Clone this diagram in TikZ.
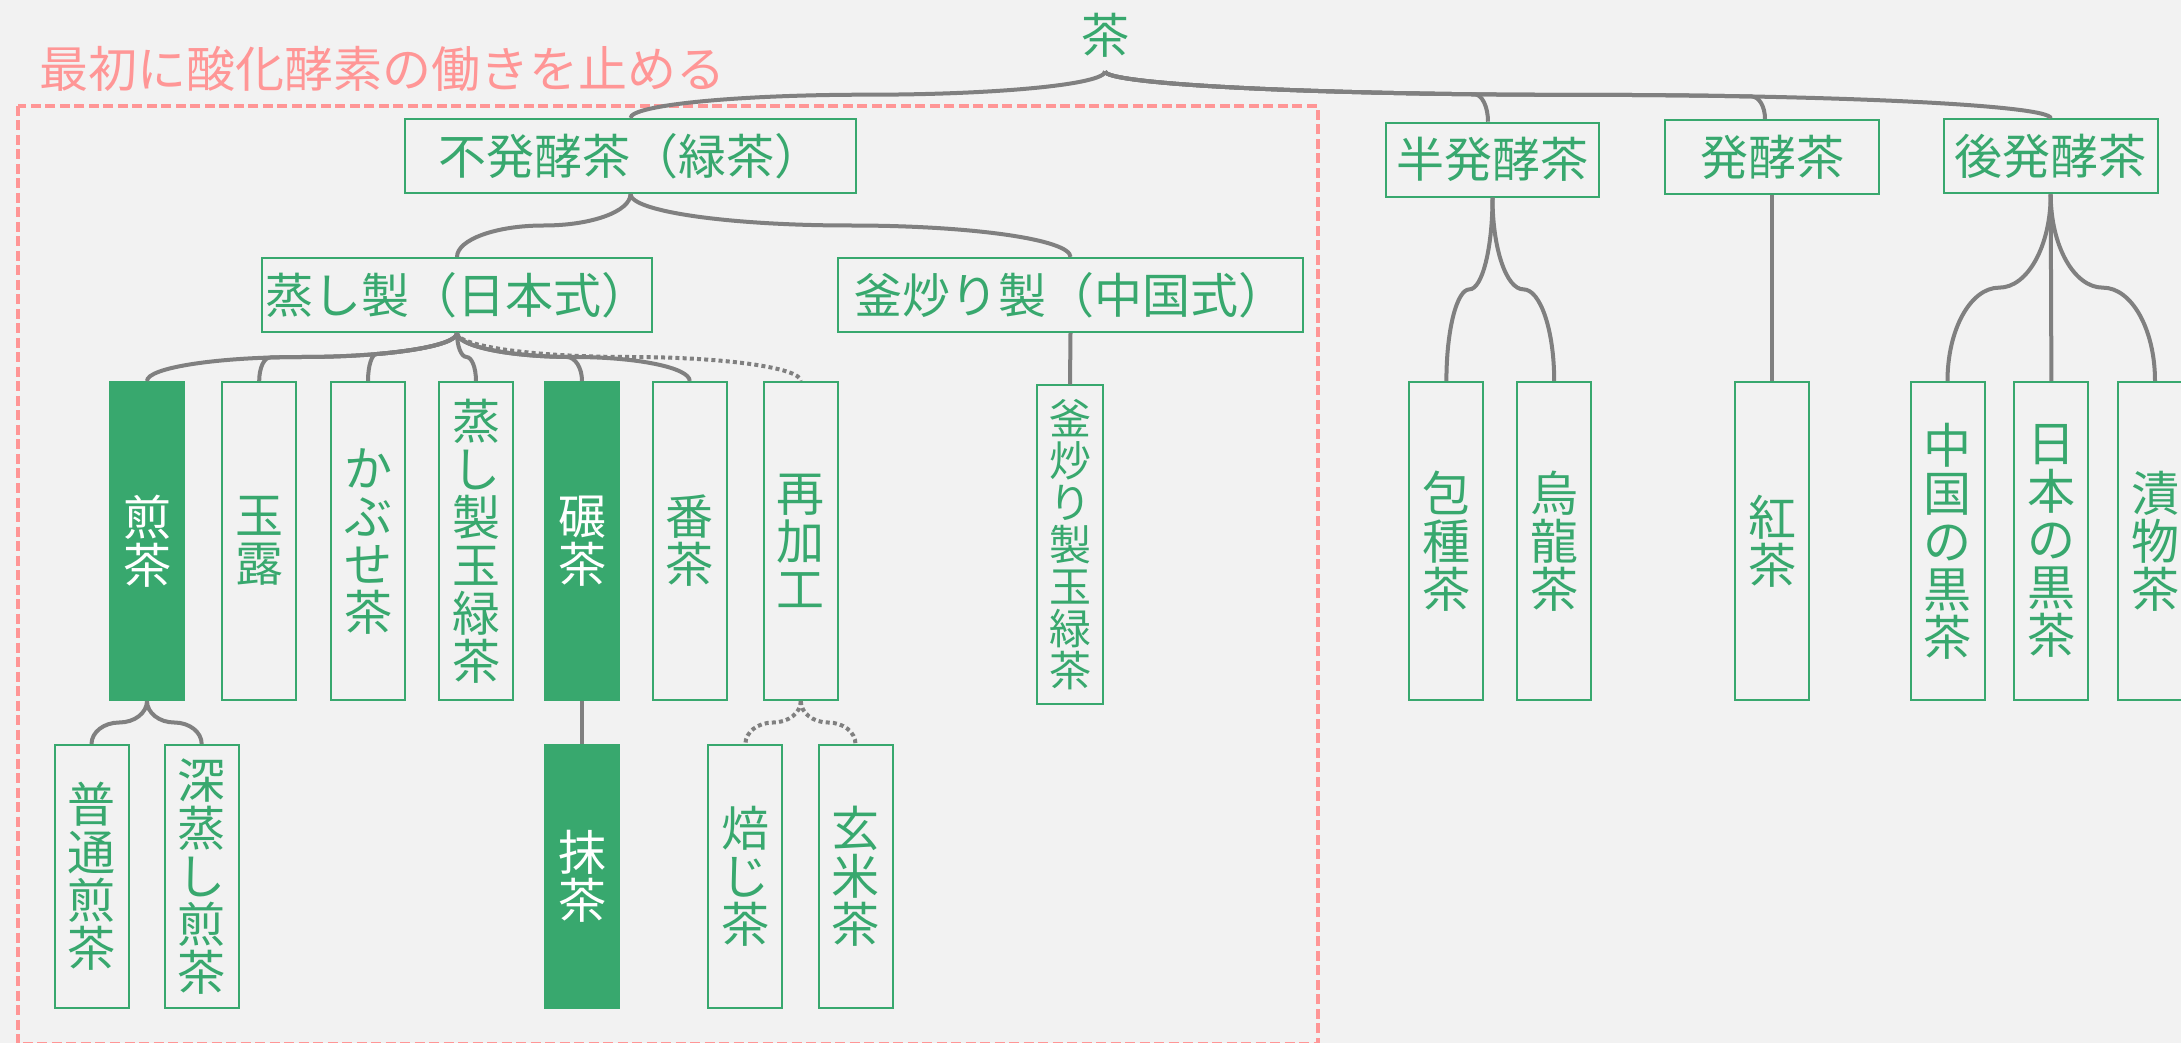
\documentclass[tikz,border=0pt]{standalone}
\usepackage{fontspec}
\setmainfont{Noto Sans CJK JP}
\usetikzlibrary{calc}
\definecolor{tgreen}{RGB}{56,168,110}
\definecolor{tgray}{RGB}{128,128,128}
\definecolor{tpink}{RGB}{255,150,150}
\definecolor{tbg}{RGB}{242,242,242}
\tikzset{
  box/.style={draw=tgreen, line width=1pt, text=tgreen, inner sep=0pt, align=center,
    font=\fontsize{24}{24}\selectfont},
  hbox/.style={box, minimum height=37pt},
  vbox/.style={box, minimum width=37pt, minimum height=159pt},
  bbox/.style={box, minimum width=37pt, minimum height=131.5pt},
  filled/.style={fill=tgreen, text=white},
  conn/.style={draw=tgray, line width=2pt},
  dotconn/.style={dash pattern=on 2pt off 1.6pt},
}
% brace connector from parent anchor #2 to child anchor #3 (horizontal turn at midpoint)
\newcommand{\brc}[3][]{%
  \draw[conn,#1] let \p1=(#2), \p2=(#3), \p3=($(\p1)!0.5!(\p2)$) in
    (\p1) .. controls (\x1,{\y1+0.5523*(\y3-\y1)}) and ({\x3+0.5523*(\x1-\x3)},\y3) .. (\p3)
    .. controls ({\x3+0.5523*(\x2-\x3)},\y3) and (\x2,{\y2+0.5523*(\y3-\y2)}) .. (\p2);
}
% branch that follows the first half of the brace #2 -> #3 up to parameter #5, then drops to child #4
\newcommand{\brA}[5][]{%
  \draw[conn,#1] let \p1=(#2), \p2=(#3), \p3=($(\p1)!0.5!(\p2)$),
    \p4=(\x1,{\y1+0.5523*(\y3-\y1)}), \p5=({\x3+0.5523*(\x1-\x3)},\y3),
    \p6=($(\p1)!#5!(\p4)$), \p7=($(\p4)!#5!(\p5)$), \p8=($(\p5)!#5!(\p3)$),
    \p9=($(\p6)!#5!(\p7)$), \p{r}=($(\p7)!#5!(\p8)$), \p{s}=($(\p9)!#5!(\p{r})$), \p{c}=(#4) in
    (\p1) .. controls (\p6) and (\p9) .. (\p{s})
    .. controls ({\x{s}+0.5523*(\x{c}-\x{s})},\y{s}) and (\x{c},{\y{c}+0.5523*(\y{s}-\y{c})}) .. (\p{c});
}
% branch that follows the whole first half and the second half up to parameter #5
\newcommand{\brB}[5][]{%
  \draw[conn,#1] let \p1=(#2), \p2=(#3), \p3=($(\p1)!0.5!(\p2)$),
    \p4=({\x3+0.5523*(\x2-\x3)},\y3), \p5=(\x2,{\y2+0.5523*(\y3-\y2)}),
    \p6=($(\p3)!#5!(\p4)$), \p7=($(\p4)!#5!(\p5)$), \p8=($(\p5)!#5!(\p2)$),
    \p9=($(\p6)!#5!(\p7)$), \p{r}=($(\p7)!#5!(\p8)$), \p{s}=($(\p9)!#5!(\p{r})$), \p{c}=(#4) in
    (\p1) .. controls (\x1,{\y1+0.5523*(\y3-\y1)}) and ({\x3+0.5523*(\x1-\x3)},\y3) .. (\p3)
    .. controls (\p6) and (\p9) .. (\p{s})
    .. controls ({\x{s}+0.5523*(\x{c}-\x{s})},\y{s}) and (\x{c},{\y{c}+0.5523*(\y{s}-\y{c})}) .. (\p{c});
}
\begin{document}
\begin{tikzpicture}[x=0.5pt,y=-0.5pt]
\useasboundingbox (0,0) rectangle (2181,1043);
\fill[tbg] (0,0) rectangle (2181,1043);
\draw[tpink, line width=2pt, dash pattern=on 5pt off 2.25pt] (18,106) rectangle (1317.5,1043.5);
\node[text=tpink, inner sep=0pt, font=\fontsize{24.5}{24.5}\selectfont] (title) at (382.5,69) {最初に酸化酵素の働きを止める};

\node[text=tgreen, inner sep=0pt, minimum height=36pt, font=\fontsize{24}{24}\selectfont] (cha) at (1105,35) {茶};

% level 1
\node[hbox, minimum width=225.5pt] (fuha) at (630.5,156) {不発酵茶（緑茶）};
\node[hbox, minimum width=106.5pt] (han) at (1492.5,159.7) {半発酵茶};
\node[hbox, minimum width=107pt] (hakko) at (1772,157) {発酵茶};
\node[hbox, minimum width=107pt] (kou) at (2050.7,156.3) {後発酵茶};
% level 2
\node[hbox, minimum width=195pt] (mushi) at (457,295) {蒸し製（日本式）};
\node[hbox, minimum width=232.5pt] (kama) at (1070.5,295) {釜炒り製（中国式）};
% level 3
\node[vbox, filled] (sencha) at (147,541) {煎\\茶};
\node[vbox] (gyokuro) at (259.2,541) {玉\\露};
\node[vbox] (kabuse) at (368,541) {か\\ぶ\\せ\\茶};
\node[vbox] (mushitama) at (476,541) {蒸\\し\\製\\玉\\緑\\茶};
\node[vbox, filled] (tencha) at (582,541) {碾\\茶};
\node[vbox] (bancha) at (689.7,541) {番\\茶};
\node[vbox] (saikakou) at (800.8,541) {再\\加\\工};
\node[vbox, minimum width=33pt, font=\fontsize{21}{21}\selectfont] (kamatama) at (1070,544.5) {釜\\炒\\り\\製\\玉\\緑\\茶};
\node[vbox] (houshu) at (1446.4,541) {包\\種\\茶};
\node[vbox] (uuron) at (1554.2,541) {烏\\龍\\茶};
\node[vbox] (koucha) at (1772,541) {紅\\茶};
\node[vbox] (chugoku) at (1947.5,541) {中\\国\\の\\黒\\茶};
\node[vbox] (nihon) at (2051.4,541) {日\\本\\の\\黒\\茶};
\node[vbox] (tsukemono) at (2155,541) {漬\\物\\茶};
% level 4
\node[bbox] (futsuu) at (91.5,876.5) {普\\通\\煎\\茶};
\node[bbox] (fukamushi) at (201.7,876.5) {深\\蒸\\し\\煎\\茶};
\node[bbox, filled] (matcha) at (582,876.5) {抹\\茶};
\node[bbox] (houji) at (745.4,876.5) {焙\\じ\\茶};
\node[bbox] (genmai) at (855.5,876.5) {玄\\米\\茶};

% connectors (dotted first)
\brc[dotconn]{mushi.south}{saikakou.north}
\brc[dotconn]{saikakou.south}{houji.north}
\brc[dotconn]{saikakou.south}{genmai.north}

\brc{cha.south}{fuha.north}
\brA{cha.south}{kou.north}{[xshift=-2.25pt]han.north}{0.864}
\brB{cha.south}{kou.north}{[xshift=-3.5pt]hakko.north}{0.235}
\brc{cha.south}{kou.north}

\brc{fuha.south}{mushi.north}
\brc{fuha.south}{kama.north}
\draw[conn] (kama.south) -- (kamatama.north);

\brc{mushi.south}{sencha.north}
\brB{mushi.south}{sencha.north}{gyokuro.north}{0.128}
\brA{mushi.south}{sencha.north}{kabuse.north}{0.685}
\brc{mushi.south}{mushitama.north}
\brA{mushi.south}{bancha.north}{tencha.north}{0.965}
\brc{mushi.south}{bancha.north}

\brc{han.south}{houshu.north}
\brc{han.south}{uuron.north}
\draw[conn] (hakko.south) -- (koucha.north);
\brc{kou.south}{chugoku.north}
\draw[conn] (kou.south) -- (nihon.north);
\brc{kou.south}{tsukemono.north}

\brc{sencha.south}{futsuu.north}
\brc{sencha.south}{fukamushi.north}
\draw[conn] (tencha.south) -- (matcha.north);
\end{tikzpicture}
\end{document}
